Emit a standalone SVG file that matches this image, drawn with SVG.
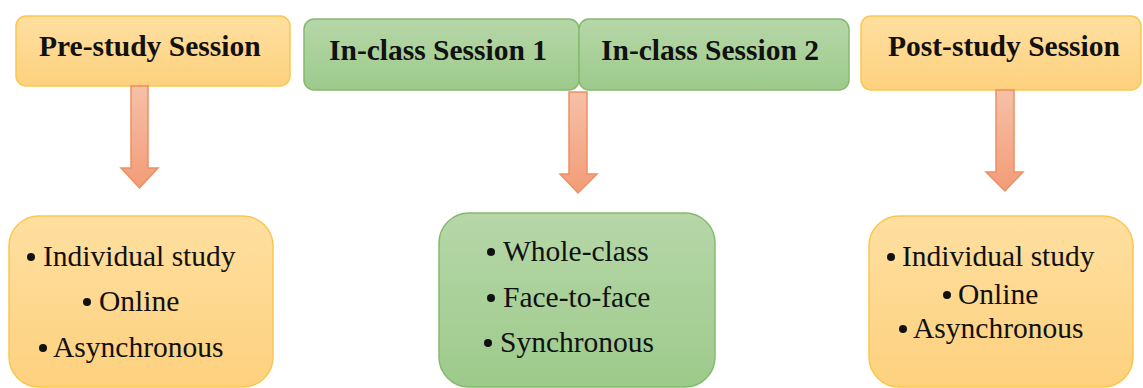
<svg xmlns="http://www.w3.org/2000/svg" width="1143" height="388" viewBox="0 0 1143 388">
  <defs>
    <linearGradient id="gOrange" x1="0" y1="0" x2="0" y2="1">
      <stop offset="0" stop-color="#FFDFA0"/>
      <stop offset="1" stop-color="#FDD17E"/>
    </linearGradient>
    <linearGradient id="gGreen" x1="0" y1="0" x2="0" y2="1">
      <stop offset="0" stop-color="#B6D7A8"/>
      <stop offset="1" stop-color="#9DCA8B"/>
    </linearGradient>
    <linearGradient id="gArrow" x1="0" y1="0" x2="0" y2="1">
      <stop offset="0" stop-color="#F6C0A8"/>
      <stop offset="1" stop-color="#F29C76"/>
    </linearGradient>
  </defs>
  <style>
    .orange { fill: url(#gOrange); stroke: #F9C74F; stroke-width: 1.5; }
    .green { fill: url(#gGreen); stroke: #86B96E; stroke-width: 1.5; }
    .arrow { fill: url(#gArrow); stroke: #EE8F62; stroke-width: 1.5; stroke-linejoin: miter; }
    text { font-family: 'Liberation Serif', 'Times New Roman', serif; fill: #111; }
    .title { font-weight: bold; font-size: 29.5px; }
    .item { font-size: 29.5px; }
    .dot { fill: #111; }
  </style>

  <!-- session headers -->
  <g id="pre-study">
    <rect class="orange" x="16" y="16" width="274" height="70" rx="10"/>
    <text class="title" x="39" y="56">Pre-study Session</text>
  </g>
  <g id="in-class-1">
    <rect class="green" x="304" y="19" width="275" height="71" rx="10"/>
    <text class="title" x="329" y="60">In-class Session 1</text>
  </g>
  <g id="in-class-2">
    <rect class="green" x="579" y="19" width="270" height="71" rx="10"/>
    <text class="title" x="601" y="60">In-class Session 2</text>
  </g>
  <g id="post-study">
    <rect class="orange" x="861" y="16" width="280" height="74" rx="10"/>
    <text class="title" x="888" y="56">Post-study Session</text>
  </g>

  <!-- block arrows from headers to detail boxes -->
  <g id="connectors">
    <path class="arrow" d="M131,86 H148 V168 H158 L139.5,188 L121,168 H131 Z"/>
    <path class="arrow" d="M569,92 H587 V174 H597 L578,193 L560,174 H569 Z"/>
    <path class="arrow" d="M996,90 H1014 V172 H1023 L1005,191 L986,172 H996 Z"/>
  </g>

  <!-- detail boxes -->
  <g id="pre-study-details">
    <rect class="orange" x="9" y="216" width="264" height="171" rx="30"/>
    <circle class="dot" cx="31" cy="257" r="4"/>
    <text class="item" x="43" y="266">Individual study</text>
    <circle class="dot" cx="87" cy="302" r="4"/>
    <text class="item" x="99" y="311">Online</text>
    <circle class="dot" cx="43" cy="348" r="4"/>
    <text class="item" x="53" y="357">Asynchronous</text>
  </g>
  <g id="in-class-details">
    <rect class="green" x="439" y="213" width="276" height="174" rx="30"/>
    <circle class="dot" cx="491" cy="252" r="4"/>
    <text class="item" x="503" y="261">Whole-class</text>
    <circle class="dot" cx="491" cy="298" r="4"/>
    <text class="item" x="503" y="307">Face-to-face</text>
    <circle class="dot" cx="488" cy="343" r="4"/>
    <text class="item" x="500" y="352">Synchronous</text>
  </g>
  <g id="post-study-details">
    <rect class="orange" x="869" y="216" width="264" height="171" rx="30"/>
    <circle class="dot" cx="891" cy="257" r="4"/>
    <text class="item" x="902" y="266">Individual study</text>
    <circle class="dot" cx="947" cy="295" r="4"/>
    <text class="item" x="958" y="304">Online</text>
    <circle class="dot" cx="903" cy="329" r="4"/>
    <text class="item" x="913" y="338">Asynchronous</text>
  </g>
</svg>
